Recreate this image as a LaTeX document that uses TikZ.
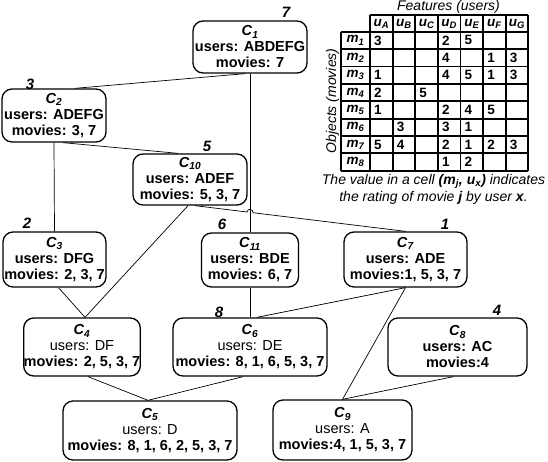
\documentclass[tikz,border=0pt]{standalone}
\usepackage{fontspec}
\setmainfont{Liberation Sans}
\usetikzlibrary{calc}
\newcommand\Cl[1]{\textbf{\textit{C}\textsubscript{\textit{#1}}}}
\newcommand\fsbox{\fontsize{14.5}{16}\selectfont}
\tikzset{
  cbox/.style={draw, line width=1.3pt, rounded corners=10pt, align=center, inner sep=0pt, font=\fsbox\bfseries},
  num/.style={font=\fontsize{15}{16}\selectfont\bfseries\itshape, inner sep=0pt},
  edge/.style={line width=0.7pt},
  gridline/.style={line width=1.9pt},
  val/.style={anchor=west, inner sep=0pt, font=\fontsize{13.5}{14}\selectfont\bfseries},
  hdr/.style={inner sep=0pt, font=\fontsize{13.5}{14}\selectfont\bfseries\itshape},
  ttl/.style={inner sep=0pt, font=\fontsize{14}{17}\selectfont\itshape}
}
\begin{document}
\begin{tikzpicture}[x=1pt, y=-1pt]
\useasboundingbox (0,0) rectangle (548,462);
% concept boxes
\node[cbox, minimum width=114pt, minimum height=52pt] (C1) at (250,47) {\Cl{1}\\users: ABDEFG\\movies: 7};
\node[cbox, minimum width=104pt, minimum height=53pt] (C2) at (54,115.5) {\Cl{2}\\users: ADEFG\\movies: 3, 7};
\node[cbox, minimum width=114pt, minimum height=51pt] (C10) at (190,179.5) {\Cl{10}\\users: ADEF\\movies: 5, 3, 7};
\node[cbox, minimum width=103pt, minimum height=55pt] (C3) at (54.5,259.5) {\Cl{3}\\users: DFG\\movies: 2, 3, 7};
\node[cbox, minimum width=97pt, minimum height=54pt] (C11) at (250,260) {\Cl{11}\\users: BDE\\movies: 6, 7};
\node[cbox, minimum width=123pt, minimum height=55pt] (C7) at (405.5,259.5) {\Cl{7}\\users: ADE\\movies:1, 5, 3, 7};
\node[cbox, minimum width=116pt, minimum height=58pt] (C4) at (82,347) {\Cl{4}\\\textmd{users: DF}\\movies: 2, 5, 3, 7};
\node[cbox, minimum width=154pt, minimum height=58pt] (C6) at (250,347) {\Cl{6}\\\textmd{users: DE}\\movies: 8, 1, 6, 5, 3, 7};
\node[cbox, minimum width=139pt, minimum height=58pt] (C8) at (457.5,347) {\Cl{8}\\users: AC\\movies:4};
\node[cbox, minimum width=174pt, minimum height=59pt] (C5) at (150,430.5) {\Cl{5}\\\textmd{users: D}\\movies: 8, 1, 6, 2, 5, 3, 7};
\node[cbox, minimum width=139pt, minimum height=60pt] (C9) at (342.5,430) {\Cl{9}\\\textmd{users: A}\\movies:4, 1, 5, 3, 7};
% support numbers
\node[num] (n1) at (286,12) {7};
\node[num] (n2) at (30,84) {3};
\node[num] (n10) at (207,146) {5};
\node[num] (n3) at (27,223) {2};
\node[num] (n11) at (222,224) {6};
\node[num] (n7) at (445,224) {1};
\node[num] (n6) at (219,312) {8};
\node[num] (n8) at (497,310) {4};
% connectors
\draw[edge] ([xshift=-5pt]C1.south) -- ([xshift=21pt]C2.north);
\draw[edge] (C1.south) -- (C11.north);
\draw[edge] ([xshift=9pt]C2.south) -- ([xshift=-12pt]C10.north);
\draw[edge] (C2.south) -- (C3.north);
\draw[edge] ([xshift=-2pt]C10.south) -- ([xshift=3pt]C4.north);
\coordinate (p) at ([xshift=5pt]C10.south);
\coordinate (q) at (C7.north);
\coordinate (hl) at ($(p)!0.2476!(q)$);
\coordinate (hr) at ($(p)!0.2762!(q)$);
\draw[edge] (p) -- (hl) .. controls +(0,-4) and +(0,-4) .. (hr) -- (q);
\draw[edge] (C11.south) -- (C6.north);
\draw[edge] (C7.south) -- ([xshift=7pt]C6.north);
\draw[edge] (C7.south) -- (C9.north);
\draw[edge] ([xshift=-4pt]C8.south) -- (C9.north);
\draw[edge] ([xshift=4pt]C3.south) -- ([xshift=3pt]C4.north);
\draw[edge] ([xshift=6pt]C4.south) -- ([xshift=-2pt]C5.north);
\draw[edge] ([xshift=-7pt]C6.south) -- ([xshift=-2pt]C5.north);
% rating table
\draw[gridline] (370,15) -- (528.3,15);
\foreach \j in {0,...,8} {
  \draw[gridline] (340.7,{31.7+17.38*\j}) -- (528.3,{31.7+17.38*\j});
}
\draw[gridline] (340.7,31.7) -- (340.7,170.74);
\foreach \i in {0,...,7} {
  \draw[gridline] ({370+22.62*\i},15) -- ({370+22.62*\i},170.74);
}
\foreach \c/\L in {1/A,2/B,3/C,4/D,5/E,6/F,7/G} {
  \node[hdr] (u\L) at ({370+22.62*(\c-0.5)},23.6) {u\textsubscript{\L}};
}
\foreach \r in {1,...,8} {
  \node[hdr] (m\r) at (355.4,{31.7+17.38*(\r-0.5)}) {m\textsubscript{\r}};
}
\foreach \r/\c/\v in {1/1/3,1/4/2,1/5/5,
  2/4/4,2/6/1,2/7/3,
  3/1/1,3/4/4,3/5/5,3/6/1,3/7/3,
  4/1/2,4/3/5,
  5/1/1,5/4/2,5/5/4,5/6/5,
  6/2/3,6/4/3,6/5/1,
  7/1/5,7/2/4,7/4/2,7/5/1,7/6/2,7/7/3,
  8/4/1,8/5/2} {
  \node[val] (v\r\c) at ({370+22.62*(\c-1)+4},{31.7+17.38*(\r-0.5)}) {\v};
}
\node[ttl] (feat) at (448.5,7) {Features (users)};
\node[ttl, rotate=90] (obj) at (332.5,101) {Objects (movies)};
\node[ttl, align=center] (cap) at (433.5,189.5) {The value in a cell \textbf{(m\textsubscript{j}, u\textsubscript{x})} indicates\\the rating of movie \textbf{j} by user \textbf{x}.};
\end{tikzpicture}
\end{document}
